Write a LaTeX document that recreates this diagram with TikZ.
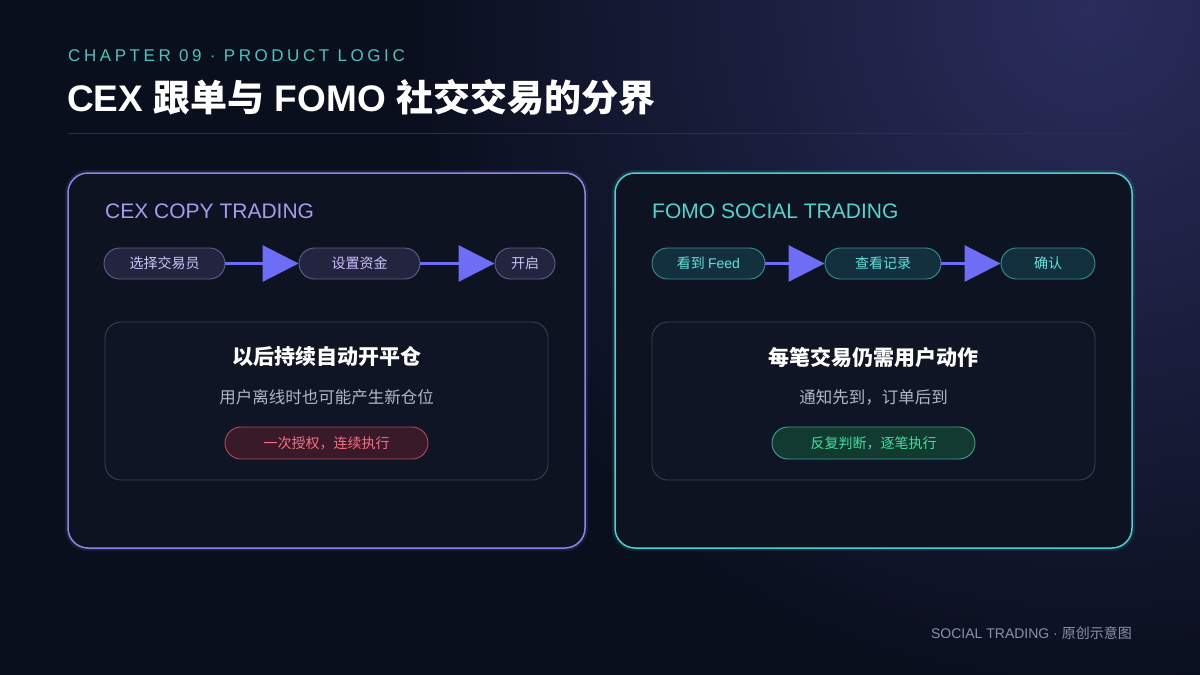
\documentclass[tikz,border=0pt]{standalone}
\usepackage{fontspec}
\setmainfont{Liberation Sans}
\newfontfamily\cjk{Noto Sans CJK SC}
\newfontfamily\chapfont[LetterSpace=21]{Liberation Sans}
\usetikzlibrary{arrows.meta}
\definecolor{bg}{HTML}{0A0F1E}
\definecolor{glow}{HTML}{2A2D5C}
\definecolor{chapc}{HTML}{4CC3BD}
\definecolor{rulec}{HTML}{2A3142}
\definecolor{panelfill}{HTML}{0E1322}
\definecolor{lavb}{HTML}{8F86E8}
\definecolor{tealb}{HTML}{4FD0CC}
\definecolor{lavt}{HTML}{A79AF2}
\definecolor{tealt}{HTML}{4FD6D0}
\definecolor{lpillf}{HTML}{23243E}
\definecolor{lpillb}{HTML}{5F5F8F}
\definecolor{lpillt}{HTML}{CBC3FF}
\definecolor{rpillf}{HTML}{12303E}
\definecolor{rpillb}{HTML}{3B8F90}
\definecolor{rpillt}{HTML}{5FE3DC}
\definecolor{arrowc}{HTML}{6D6EF5}
\definecolor{innerf}{HTML}{0F1524}
\definecolor{innerb}{HTML}{3A404E}
\definecolor{subc}{HTML}{B0B6C4}
\definecolor{redf}{HTML}{381A28}
\definecolor{redb}{HTML}{B04A60}
\definecolor{redt}{HTML}{FF6B81}
\definecolor{greenf}{HTML}{133A30}
\definecolor{greenb}{HTML}{3FA585}
\definecolor{greent}{HTML}{3FE0A0}
\definecolor{footc}{HTML}{8A92AA}
\begin{document}
\begin{tikzpicture}[x=1pt,y=-1pt,
  panel/.style={draw=#1, line width=1.5pt, fill=panelfill, rounded corners=20pt,
    minimum width=517pt, minimum height=375pt, inner sep=0pt},
  panelglow/.style={draw=#1, line width=6pt, draw opacity=0.12, rounded corners=20pt,
    minimum width=517pt, minimum height=375pt, inner sep=0pt},
  lpill/.style={draw=lpillb, line width=0.9pt, fill=lpillf, rounded corners=15.5pt,
    minimum height=31pt, inner sep=0pt, text=lpillt, font=\cjk\fontsize{14}{16}\selectfont},
  rpill/.style={draw=rpillb, line width=0.9pt, fill=rpillf, rounded corners=15.5pt,
    minimum height=31pt, inner sep=0pt, text=rpillt, font=\cjk\fontsize{14}{16}\selectfont},
  flow/.style={draw=arrowc, line width=3pt, -{Triangle[length=36pt,width=36pt]}},
  innerbox/.style={draw=innerb, line width=0.9pt, fill=innerf, rounded corners=16pt,
    minimum width=443pt, minimum height=158pt, inner sep=0pt},
  heading/.style={text=white, font=\cjk\bfseries\fontsize{21}{24}\selectfont, inner sep=0pt},
  subtext/.style={text=subc, font=\cjk\fontsize{16.5}{19}\selectfont, inner sep=0pt},
  tag/.style={draw=#1b, fill=#1f, text=#1t, line width=0.9pt, rounded corners=16pt,
    minimum width=203pt, minimum height=32pt, inner sep=0pt, font=\cjk\fontsize{14}{16}\selectfont},
  ptitle/.style={text=#1, font=\fontsize{21}{24}\selectfont, inner sep=0pt, anchor=west}
]
\useasboundingbox (0,0) rectangle (1200,675);
\fill[bg] (0,0) rectangle (1200,675);
\begin{scope}
  \clip (0,0) rectangle (1200,675);
  \shade[inner color=glow, outer color=bg] (1090,10) circle[radius=680pt];
\end{scope}

% header
\node[anchor=west, inner sep=0pt, text=chapc, font=\chapfont\fontsize{17}{19}\selectfont] (chap) at (68,56) {CHAPTER 09 · PRODUCT LOGIC};
\node[anchor=west, inner sep=0pt, text=white, font=\bfseries\fontsize{37}{42}\selectfont] (title) at (67,97)
  {CEX {\cjk 跟单与} FOMO {\cjk 社交交易的分界}};
\draw[rulec, line width=1pt] (68,133) -- (1132,133);

% panels
\node[panelglow=lavb] (Lg) at (326.5,360.5) {};
\node[panelglow=tealb] (Rg) at (873.5,360.5) {};
\node[panel=lavb] (L) at (326.5,360.5) {};
\node[panel=tealb] (R) at (873.5,360.5) {};

\node[ptitle=lavt] (Lt) at (105,211) {CEX COPY TRADING};
\node[ptitle=tealt] (Rt) at (652,211) {FOMO SOCIAL TRADING};

% left flow
\node[lpill, minimum width=121pt] (l1) at (164.5,263.5) {选择交易员};
\node[lpill, minimum width=121pt] (l2) at (359.5,263.5) {设置资金};
\node[lpill, minimum width=60pt] (l3) at (525,263.5) {开启};
\draw[flow] (l1) -- (l2);
\draw[flow] (l2) -- (l3);

% right flow
\node[rpill, minimum width=113pt] (r1) at (708.5,263.5) {看到 {\fontspec{Liberation Sans}Feed}};
\node[rpill, minimum width=116pt] (r2) at (883,263.5) {查看记录};
\node[rpill, minimum width=94pt] (r3) at (1048,263.5) {确认};
\draw[flow] (r1) -- (r2);
\draw[flow] (r2) -- (r3);

% inner boxes
\node[innerbox] (Li) at (326.5,401) {};
\node[innerbox] (Ri) at (873.5,401) {};

\node[heading] (Lh) at (326.5,357) {以后持续自动开平仓};
\node[subtext] (Ls) at (326.5,397) {用户离线时也可能产生新仓位};
\node[tag=red] (Ltag) at (326.5,443) {一次授权，连续执行};

\node[heading] (Rh) at (873.5,357) {每笔交易仍需用户动作};
\node[subtext] (Rs) at (873.5,397) {通知先到，订单后到};
\node[tag=green] (Rtag) at (873.5,443) {反复判断，逐笔执行};

% footer
\node[anchor=east, inner sep=0pt, text=footc, font=\fontsize{14}{16}\selectfont] (foot) at (1132,633)
  {SOCIAL TRADING · {\cjk 原创示意图}};
\end{tikzpicture}
\end{document}
